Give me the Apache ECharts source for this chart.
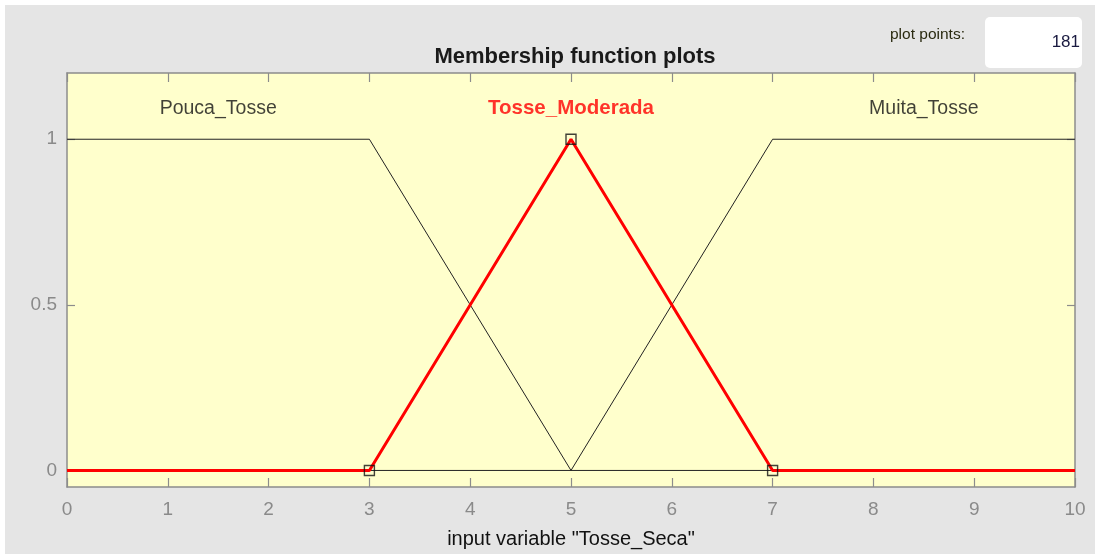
<!DOCTYPE html>
<html>
<head>
<meta charset="utf-8">
<script src="https://cdn.jsdelivr.net/npm/echarts@6/dist/echarts.min.js"></script>
<style>
html,body{margin:0;padding:0;background:#fff;}
#chart{width:1095px;height:554px;
background:linear-gradient(#fff,#fff) top left/100% 5px no-repeat,linear-gradient(#fff,#fff) top left/5px 100% no-repeat,#e5e5e5;}
</style>
</head>
<body>
<div id="chart"></div>
<script>
// membership functions of input variable "Tosse_Seca"
const mfNames = ["Pouca_Tosse", "Tosse_Moderada", "Muita_Tosse"];
const pouca = [[0, 1], [3, 1], [5, 0], [10, 0]];
const muita = [[0, 0], [5, 0], [7, 1], [10, 1]];
const moderada = [[0, 0], [3, 0], [5, 1], [7, 0], [10, 0]];
const moderadaParams = [[3, 0], [5, 1], [7, 0]];
const labelPositions = [[1.5, 1.093], [5, 1.093], [8.5, 1.093]];
const xTicks = [0, 1, 2, 3, 4, 5, 6, 7, 8, 9, 10];
const yTicks = [0, 0.5, 1];
const plotPoints = "181";

const chart = echarts.init(document.getElementById('chart'));
const axisGray = '#8c8c8c';
const tickLabelGray = '#8a8a8a';

const labelColors = ['#111', '#ff0000', '#111'];
const labelWeights = ['normal', 'bold', 'normal'];
const labelSizes = [19.5, 20.5, 19.5];

const option = {
  animation: false,
  backgroundColor: 'transparent',
  title: {
    text: 'Membership function plots',
    left: 570, top: 41, textAlign: 'center',
    textStyle: {fontFamily: 'Liberation Sans', fontSize: 22, fontWeight: 'bold', color: '#1a1a1a'}
  },
  graphic: [
    {type: 'text', left: 890, top: 27, style: {text: 'plot points:', fontFamily: 'Liberation Sans', fontSize: 15.5, fill: '#2a2a10'}},
    {type: 'rect', left: 985, top: 17, shape: {width: 97, height: 51, r: 5}, style: {fill: '#fff'}},
    {type: 'text', right: 15, top: 34, style: {text: plotPoints, fontFamily: 'Liberation Sans', fontSize: 17, fill: '#1a1a40'}}
  ],
  grid: {left: 67, right: 20, top: 73, bottom: 66, show: true, backgroundColor: '#ffffcc', borderWidth: 0},
  xAxis: [{
    type: 'value', min: 0, max: 10, interval: 1,
    axisLine: {show: true, onZero: false, lineStyle: {color: axisGray, width: 1.5}},
    axisTick: {show: true, inside: true, length: 9, lineStyle: {color: axisGray, width: 1.2}},
    axisLabel: {show: true, margin: 13, fontFamily: 'Liberation Sans', fontSize: 19, color: tickLabelGray,
      formatter: v => xTicks.includes(v) ? String(v) : ''},
    splitLine: {show: false},
    name: 'input variable "Tosse_Seca"', nameLocation: 'middle', nameGap: 42,
    nameTextStyle: {fontFamily: 'Liberation Sans', fontSize: 20, color: '#111'}
  }, {
    type: 'value', min: 0, max: 10, interval: 1, position: 'top',
    axisLine: {show: true, onZero: false, lineStyle: {color: axisGray, width: 1.5}},
    axisTick: {show: true, inside: true, length: 9, lineStyle: {color: axisGray, width: 1.2}},
    axisLabel: {show: false}, splitLine: {show: false}
  }],
  yAxis: [{
    type: 'value', min: -0.05, max: 1.2,
    axisLine: {show: true, onZero: false, lineStyle: {color: axisGray, width: 1.5}},
    axisTick: {show: true, inside: true, length: 8, customValues: yTicks, lineStyle: {color: axisGray, width: 1.2}},
    axisLabel: {show: true, margin: 10, customValues: yTicks, fontFamily: 'Liberation Sans', fontSize: 19, color: tickLabelGray},
    splitLine: {show: false}
  }, {
    type: 'value', min: -0.05, max: 1.2, position: 'right',
    axisLine: {show: true, onZero: false, lineStyle: {color: axisGray, width: 1.5}},
    axisTick: {show: true, inside: true, length: 8, customValues: yTicks, lineStyle: {color: axisGray, width: 1.2}},
    axisLabel: {show: false}, splitLine: {show: false}
  }],
  series: [
    {type: 'line', name: mfNames[0], data: pouca, symbol: 'none', lineStyle: {color: '#222', width: 1}, z: 3},
    {type: 'line', name: mfNames[2], data: muita, symbol: 'none', lineStyle: {color: '#222', width: 1}, z: 3},
    {type: 'line', name: mfNames[1], data: moderada, symbol: 'none', lineStyle: {color: '#ff0000', width: 3}, z: 4},
    {type: 'scatter', data: moderadaParams, symbol: 'rect', symbolSize: 10,
      itemStyle: {color: 'rgba(0,0,0,0)', borderColor: '#111', borderWidth: 1.4}, z: 5},
    {type: 'scatter', symbolSize: 0, z: 6,
      data: labelPositions.map((p, i) => ({value: p, name: mfNames[i],
        label: {show: true, position: 'inside', formatter: mfNames[i], color: labelColors[i],
          fontFamily: 'Liberation Sans', fontSize: labelSizes[i], fontWeight: labelWeights[i]}}))}
  ]
};
chart.setOption(option);
</script>
</body>
</html>
